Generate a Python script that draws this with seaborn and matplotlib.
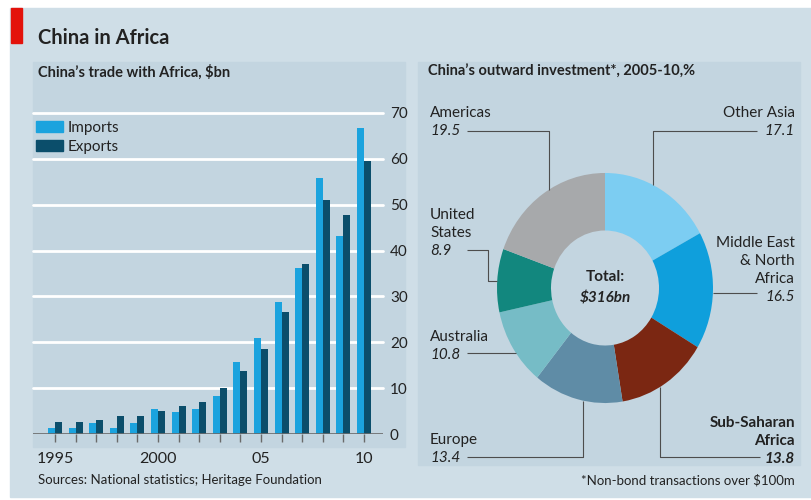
import numpy as np
import pandas as pd
import matplotlib
matplotlib.use("Agg")
import matplotlib.pyplot as plt
import seaborn as sns
from matplotlib.patches import Rectangle, Patch

# Datos
years = list(range(1995, 2011))
imports = [1.4, 1.4, 2.4, 1.4, 2.3, 5.5, 4.7, 5.4, 8.3, 15.6, 20.9, 28.7, 36.2, 55.9, 43.1, 66.8]
exports = [2.6, 2.6, 3.1, 3.9, 4.0, 5.0, 6.1, 6.9, 10.1, 13.8, 18.6, 26.6, 37.0, 51.1, 47.7, 59.6]
year_labels = ["1995", "", "", "", "", "2000", "", "", "", "", "05", "", "", "", "", "10"]
y_ticks = [0, 10, 20, 30, 40, 50, 60, 70]

regions = ["Other Asia", "Middle East & North Africa", "Sub-Saharan Africa",
           "Europe", "Australia", "United States", "Americas"]
shares = [17.1, 16.5, 13.8, 13.4, 10.8, 8.9, 19.5]
total_label = "$316bn"

c_imp = "#1ba3de"
c_exp = "#0b4e6b"
region_colors = ["#7ccdf2", "#0f9fdc", "#7b2712", "#5f8ca6", "#76bcc6", "#12877e", "#a7a9ab"]

sns.set_style("white")
plt.rcParams["font.family"] = ["Lato", "DejaVu Sans"]
txt = "#222222"

W, H = 811, 500
fig = plt.figure(figsize=(8.11, 5.0), dpi=100)
fig.patch.set_facecolor("white")


def fx(x):
    return x / W


def fy(y):
    return 1 - y / H


def fig_rect(x0, y0, x1, y1, color):
    fig.patches.append(Rectangle((fx(x0), fy(y1)), fx(x1) - fx(x0), fy(y0) - fy(y1),
                                 transform=fig.transFigure, color=color, zorder=-10))


fig_rect(10, 8, 811, 497, "#cfdee7")
fig_rect(33, 62, 405, 447, "#c3d5e0")
fig_rect(418, 62, 800, 465, "#c3d5e0")
fig_rect(11, 8, 22, 43, "#e3120b")

fig.text(fx(38), fy(38), "China in Africa", fontsize=14.5, fontweight="bold", color=txt, va="center")
fig.text(fx(38), fy(72), "China\u2019s trade with Africa, $bn", fontsize=10.5, fontweight="bold",
         color=txt, va="center")
fig.text(fx(428), fy(72), "China\u2019s outward investment*, 2005-10,%", fontsize=10.5,
         fontweight="bold", color=txt, va="center")
fig.text(fx(38), fy(480), "Sources: National statistics; Heritage Foundation", fontsize=9.5,
         color=txt, va="center")
fig.text(fx(795), fy(480), "*Non-bond transactions over $100m", fontsize=9.5, color=txt,
         va="center", ha="right")

# Barras
df = pd.DataFrame({
    "year": years * 2,
    "value": imports + exports,
    "serie": ["Imports"] * len(years) + ["Exports"] * len(years),
})

ax1 = fig.add_axes([fx(33), fy(434), fx(383) - fx(33), fy(113) - fy(434)])
ax1.set_facecolor("none")
sns.barplot(data=df, x="year", y="value", hue="serie", palette=[c_imp, c_exp],
            width=0.68, saturation=1, ax=ax1, zorder=3, linewidth=0, edgecolor="none")
ax1.set_xlim(-1.07, 15.92)
ax1.set_ylim(0, 70)
for v in y_ticks[1:]:
    ax1.axhline(v, color="white", lw=2, zorder=1, clip_on=False)
ax1.axhline(0, color="#6a6a6a", lw=1.2, zorder=4)
for s in ax1.spines.values():
    s.set_visible(False)
ax1.yaxis.tick_right()
ax1.set_yticks(y_ticks)
ax1.tick_params(axis="y", length=0, pad=5, labelsize=11, labelcolor=txt)
ax1.set_xticks(range(len(years)))
ax1.set_xticklabels(year_labels)
ax1.tick_params(axis="x", direction="out", length=6, width=1, color="#6a6a6a",
                pad=7, labelsize=11.5, labelcolor=txt, bottom=True)
ax1.set_xlabel("")
ax1.set_ylabel("")
ax1.legend(handles=[Patch(color=c_imp), Patch(color=c_exp)], labels=["Imports", "Exports"],
           loc="upper left", bbox_to_anchor=(fx(36), fy(121)), bbox_transform=fig.transFigure,
           frameon=False, fontsize=11, borderpad=0, borderaxespad=0, handlelength=1.75,
           handleheight=0.75, handletextpad=0.3, labelspacing=0.3, labelcolor=txt)

# Donut
S = 1.065
px0, py0, px1, py1 = 418, 62, 800, 465
ax2 = fig.add_axes([fx(px0), fy(py1), fx(px1) - fx(px0), fy(py0) - fy(py1)])


def yd(py):
    return (py1 - py) / S


cx, cy, R = 605, 288, 108
ax2.pie(shares, colors=region_colors, startangle=90, counterclock=False, radius=R,
        center=(cx, yd(cy)), wedgeprops=dict(width=R / 2, edgecolor="none"))
ax2.set_aspect("auto")
ax2.set_xlim(px0, px1)
ax2.set_ylim(0, (py1 - py0) / S)
ax2.axis("off")


def edge_y(x, top=True):
    d = np.sqrt(R ** 2 - (x - cx) ** 2) * S
    return cy - d if top else cy + d


def edge_x(y, left=True):
    d = np.sqrt(R ** 2 - ((y - cy) / S) ** 2)
    return cx - d if left else cx + d


def line(xs, ys):
    ax2.plot(xs, [yd(v) for v in ys], color="#4d4d4d", lw=0.8, solid_capstyle="butt")


def label(x, y0, lines, ha, bold=False):
    for i, t in enumerate(lines):
        last = i == len(lines) - 1
        ax2.text(x, yd(y0 + 18 * i), t, ha=ha, va="center", fontsize=11, color=txt,
                 fontstyle="italic" if last else "normal",
                 fontweight="bold" if bold else "normal")


share = dict(zip(regions, shares))
label(430, 113, ["Americas", f"{share['Americas']}"], "left")
line([467, 549, 549], [131, 131, edge_y(549)])
label(795, 113, ["Other Asia", f"{share['Other Asia']}"], "right")
line([757, 653, 653], [131, 131, edge_y(653)])
label(430, 215, ["United", "States", f"{share['United States']}"], "left")
line([467, 488, 488, edge_x(281)], [250, 250, 281, 281])
label(795, 243, ["Middle East", "& North", "Africa", f"{share['Middle East & North Africa']}"], "right")
line([757, edge_x(293, left=False)], [293, 293])
label(430, 337, ["Australia", f"{share['Australia']}"], "left")
line([467, edge_x(353)], [353, 353])
label(430, 440, ["Europe", f"{share['Europe']}"], "left")
line([467, 583, 583], [457, 457, edge_y(583, top=False)])
label(795, 423, ["Sub-Saharan", "Africa", f"{share['Sub-Saharan Africa']}"], "right", bold=True)
line([760, 660, 660], [457, 457, edge_y(660, top=False)])

ax2.text(cx, yd(277), "Total:", ha="center", va="center", fontsize=11, fontweight="bold", color=txt)
ax2.text(cx, yd(298), total_label, ha="center", va="center", fontsize=11, fontweight="bold",
         fontstyle="italic", color=txt)

fig.savefig("out.png", dpi=100, facecolor=fig.get_facecolor())
